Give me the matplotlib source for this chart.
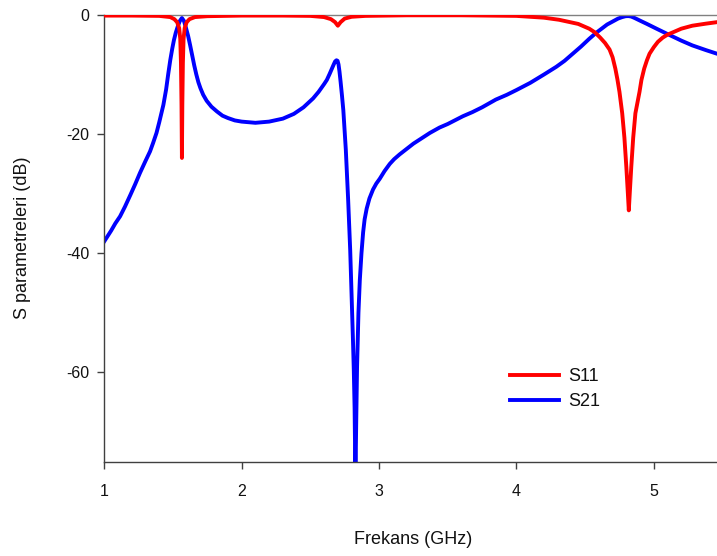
import matplotlib
matplotlib.use("Agg")
import matplotlib.pyplot as plt

plt.rcParams['font.family'] = ['Liberation Sans', 'DejaVu Sans']

# S21 transmission (dB) vs frequency (GHz)
f21 = [1.00, 1.05, 1.08, 1.115, 1.15, 1.19, 1.225, 1.26, 1.30, 1.333, 1.355,
       1.38, 1.40, 1.43, 1.45, 1.466, 1.48, 1.495, 1.507, 1.52, 1.535, 1.55,
       1.565, 1.58, 1.595, 1.61, 1.625, 1.64, 1.655, 1.67, 1.685, 1.70, 1.72,
       1.745, 1.78, 1.82, 1.86, 1.90, 1.95, 2.00, 2.10, 2.20, 2.30, 2.38, 2.45,
       2.52, 2.56, 2.60, 2.62, 2.64, 2.655, 2.67, 2.68, 2.69, 2.698, 2.705,
       2.712, 2.72, 2.73, 2.74, 2.758, 2.775, 2.79, 2.80, 2.81, 2.816, 2.822,
       2.828, 2.834, 2.84, 2.85, 2.86, 2.872, 2.884, 2.895, 2.91, 2.93, 2.956,
       2.98, 3.005, 3.04, 3.078, 3.11, 3.15, 3.20, 3.25, 3.31, 3.37, 3.44, 3.50,
       3.61, 3.68, 3.75, 3.85, 3.93, 4.00, 4.10, 4.20, 4.29, 4.35, 4.40, 4.47,
       4.53, 4.58, 4.62, 4.66, 4.70, 4.74, 4.77, 4.795, 4.815, 4.835, 4.86, 4.90,
       4.95, 5.02, 5.10, 5.20, 5.28, 5.38, 5.46]
s21 = [-38.0, -36.2, -35.0, -33.8, -32.2, -30.2, -28.4, -26.5, -24.5, -22.9, -21.5,
       -19.8, -18.0, -15.1, -12.5, -9.8, -7.6, -5.6, -4.2, -3.0, -1.9, -1.0,
       -0.5, -1.0, -2.2, -3.5, -5.1, -6.8, -8.5, -10.0, -11.3, -12.3, -13.4,
       -14.4, -15.4, -16.2, -16.9, -17.3, -17.7, -17.9, -18.1, -17.9, -17.4, -16.6, -15.5,
       -14.0, -12.9, -11.6, -10.9, -9.9, -9.1, -8.3, -7.8, -7.6, -7.7, -8.3,
       -9.5, -11.2, -13.5, -16.0, -22.6, -31.0, -39.5, -47.0, -54.5, -59.5, -66.0,
       -78.0, -68.0, -59.0, -50.0, -44.5, -40.0, -36.5, -34.3, -32.5, -30.8, -29.3,
       -28.3, -27.5, -26.2, -25.0, -24.2, -23.4, -22.5, -21.6, -20.7, -19.8, -18.9, -18.3,
       -17.0, -16.3, -15.5, -14.2, -13.4, -12.6, -11.4, -10.0, -8.7, -7.7, -6.7, -5.3,
       -4.0, -3.0, -2.3, -1.6, -1.1, -0.6, -0.35, -0.2, -0.18, -0.25, -0.5, -0.95,
       -1.5, -2.3, -3.2, -4.3, -5.1, -5.9, -6.5]

# S11 reflection (dB) vs frequency (GHz)
f11 = [1.00, 1.20, 1.40, 1.48, 1.51, 1.53, 1.545, 1.553, 1.558, 1.562, 1.565,
       1.568, 1.572, 1.577, 1.585, 1.60, 1.62, 1.66, 1.75, 2.00, 2.30, 2.50, 2.60,
       2.65, 2.68, 2.70, 2.72, 2.75, 2.80, 2.90, 3.20, 3.60, 4.00, 4.20, 4.31,
       4.45, 4.53, 4.57, 4.61, 4.645, 4.678, 4.70, 4.72, 4.735, 4.75, 4.77, 4.786,
       4.80, 4.81, 4.818, 4.826, 4.836, 4.85, 4.866, 4.896, 4.91, 4.93, 4.95,
       4.969, 5.00, 5.03, 5.065, 5.10, 5.20, 5.28, 5.38, 5.46]
s11 = [-0.1, -0.1, -0.15, -0.35, -0.7, -1.2, -2.2, -4.0, -8.0, -15.0, -24.0,
       -15.0, -8.0, -4.0, -2.2, -1.2, -0.7, -0.35, -0.2, -0.1, -0.1, -0.15, -0.35,
       -0.7, -1.2, -1.8, -1.2, -0.6, -0.3, -0.15, -0.05, -0.05, -0.15, -0.45, -0.8,
       -1.5, -2.3, -2.9, -3.8, -4.7, -5.8, -7.1, -9.0, -10.8, -12.9, -16.5, -20.6,
       -25.5, -29.5, -32.8, -29.5, -25.5, -20.6, -16.5, -12.9, -10.9, -9.0, -7.6,
       -6.5, -5.4, -4.5, -3.8, -3.3, -2.3, -1.8, -1.45, -1.2]

x_ticks = [1, 2, 3, 4, 5]
y_ticks = [0, -20, -40, -60]

W, H = 717, 556
fig = plt.figure(figsize=(W / 100, H / 100), dpi=100)
left, right, top, bottom = 104.3, 717, 15, 461.7
ax = fig.add_axes([left / W, 1 - bottom / H, (right - left) / W, (bottom - top) / H])

ax.plot(f11, s11, color='#ff0000', lw=2.8, label='S11', solid_joinstyle='round', zorder=3)
ax.plot(f21, s21, color='#0000ff', lw=2.8, label='S21', solid_joinstyle='round', zorder=2)

ax.set_xlim(1, 5.46)
ax.set_ylim(-75, 0)
ax.set_xticks(x_ticks)
ax.set_yticks(y_ticks)
ax.set_xticklabels([str(v) for v in x_ticks])
ax.set_yticklabels([str(v) for v in y_ticks])

for side in ('left', 'bottom'):
    ax.spines[side].set_color('#404040')
    ax.spines[side].set_linewidth(1.0)
ax.spines['top'].set_color('#808080')
ax.spines['top'].set_linewidth(1.0)
ax.spines['right'].set_visible(False)

ax.tick_params(axis='both', direction='out', length=5, width=1.0, color='#404040',
               labelsize=11.5, labelcolor='#111111')
ax.tick_params(axis='x', pad=11)
ax.tick_params(axis='y', pad=6)
ax.tick_params(top=False, right=False)

fig.text(413 / W, 1 - 540 / H, 'Frekans (GHz)', ha='center', va='center',
         fontsize=13, color='#111111')
fig.text(23 / W, 1 - 238 / H, 'S parametreleri (dB)', ha='center', va='center',
         rotation=90, fontsize=13, color='#111111')

leg = ax.legend(loc='upper left', bbox_to_anchor=(510 / W, 1 - 368 / H),
                bbox_transform=fig.transFigure, frameon=False, fontsize=13,
                handlelength=2.7, handletextpad=0.55, labelspacing=0.45,
                borderpad=0, borderaxespad=0)
for t in leg.get_texts():
    t.set_color('#111111')

fig.savefig('out.png', dpi=100)
